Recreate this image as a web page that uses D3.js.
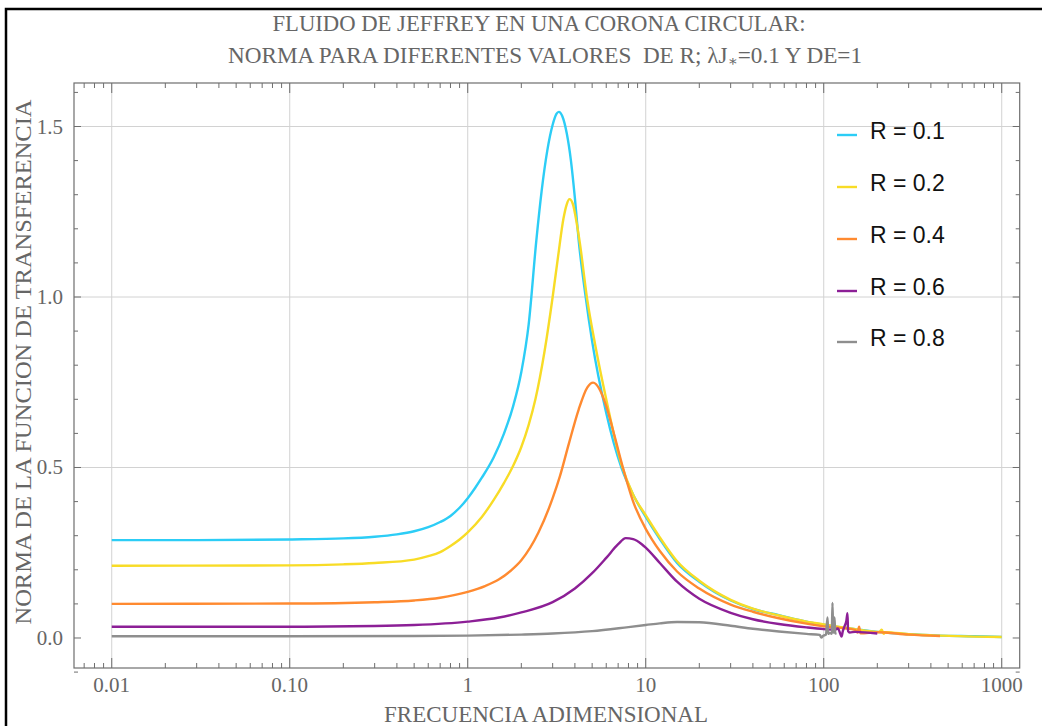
<!DOCTYPE html>
<html>
<head>
<meta charset="utf-8">
<script src="https://cdn.jsdelivr.net/npm/d3@7"></script>
<style>
  body { margin: 0; background: #fff; }
  svg { display: block; }
  text { font-family: "Liberation Serif", "DejaVu Serif", serif; }
</style>
</head>
<body>
<svg id="chart" width="1042" height="726"></svg>
<script>
// frecuencia adimensional vs norma
const r01 = [[0.01,0.287],[0.03,0.287],[0.1,0.289],[0.2,0.292],[0.3,0.297],[0.4,0.304],[0.5,0.313],[0.6,0.325],[0.7,0.34],[0.8,0.358],[0.9,0.382],[1,0.41],[1.1,0.44],[1.2,0.47],[1.4,0.53],[1.6,0.6],[1.8,0.68],[2,0.78],[2.2,0.92],[2.43,1.167],[2.6,1.31],[2.8,1.43],[3,1.505],[3.15,1.537],[3.25,1.543],[3.4,1.53],[3.6,1.48],[3.8,1.4],[4,1.29],[4.2,1.167],[4.6,1.0],[5,0.87],[6,0.66],[7.3,0.5],[8.5,0.42],[10,0.355],[12,0.29],[15,0.22],[20,0.165],[30,0.11],[40,0.085],[56,0.067],[80,0.048],[100,0.039],[150,0.026],[200,0.018],[300,0.011],[450,0.007],[700,0.005],[1000,0.003]]
const r02 = [[0.01,0.212],[0.1,0.213],[0.2,0.216],[0.3,0.22],[0.5,0.23],[0.6,0.24],[0.7,0.252],[0.8,0.27],[0.9,0.289],[1,0.31],[1.2,0.355],[1.4,0.405],[1.6,0.455],[1.8,0.505],[2,0.56],[2.2,0.625],[2.4,0.7],[2.7,0.84],[3,1.0],[3.22,1.12],[3.45,1.23],[3.6,1.272],[3.73,1.287],[3.9,1.272],[4.1,1.215],[4.26,1.16],[4.7,0.99],[5.2,0.86],[6,0.7],[7.3,0.51],[8.5,0.42],[10,0.36],[12,0.295],[15,0.225],[20,0.168],[30,0.112],[40,0.086],[56,0.066],[80,0.048],[100,0.04],[150,0.026],[205,0.018],[212,0.024],[217,0.012],[222,0.017],[300,0.011],[450,0.007],[700,0.004],[1000,0.003]]
const r04 = [[0.01,0.1],[0.1,0.101],[0.3,0.105],[0.5,0.11],[0.7,0.118],[1,0.135],[1.25,0.152],[1.5,0.172],[1.75,0.198],[2,0.228],[2.5,0.31],[3,0.41],[3.29,0.473],[3.7,0.57],[4.2,0.67],[4.7,0.735],[5.06,0.749],[5.5,0.73],[6,0.68],[6.7,0.59],[7.44,0.5],[8.5,0.4],[10,0.32],[10.9,0.287],[12,0.255],[15,0.195],[20,0.145],[30,0.098],[40,0.077],[56,0.058],[80,0.042],[100,0.034],[150,0.024],[155,0.016],[158,0.033],[161,0.014],[200,0.017],[300,0.01],[450,0.006]]
const r06 = [[0.01,0.033],[0.1,0.033],[0.3,0.035],[0.5,0.038],[1,0.048],[1.5,0.06],[2,0.075],[3,0.105],[4,0.145],[5,0.19],[6,0.235],[7,0.275],[7.72,0.293],[8.5,0.29],[9.5,0.275],[10,0.265],[12,0.22],[15,0.165],[20,0.115],[30,0.074],[40,0.055],[56,0.041],[80,0.031],[100,0.026],[115,0.024],[120,0.028],[124,0.012],[126,0.004],[128,0.02],[131,0.035],[134,0.05],[136,0.073],[137,0.02],[140,0.016],[150,0.018],[200,0.013]]
const r08 = [[0.01,0.005],[0.1,0.005],[0.5,0.006],[1,0.007],[2,0.01],[3,0.013],[5,0.02],[8,0.032],[10,0.038],[12,0.043],[15,0.047],[20,0.046],[30,0.036],[40,0.027],[56,0.019],[80,0.012],[95,0.009],[97,0.001],[99,0.006],[103,0.01],[105,0.06],[106,0.012],[108,0.015],[111,0.012],[112,0.103],[113,0.015],[115,0.06],[116,0.014],[118,0.012]]

const seriesNames = ["R = 0.1", "R = 0.2", "R = 0.4", "R = 0.6", "R = 0.8"]
const seriesData = [r01, r02, r04, r06, r08]
const seriesColors = ["#2ccdf6", "#f8dc26", "#ff8a30", "#8c1f96", "#8e8e8e"]

const xMajor = [0.01, 0.1, 1, 10, 100, 1000]
const xLabels = ["0.01", "0.10", "1", "10", "100", "1000"]
const yMajor = [0, 0.5, 1, 1.5]
const yLabels = ["0.0", "0.5", "1.0", "1.5"]

const svg = d3.select("#chart")
const pl = 74, pr = 1019.7, pt = 83, pb = 668

const x = d3.scaleLog().domain([Math.pow(10, -2.212), Math.pow(10, 3.101)]).range([pl, pr])
const y = d3.scaleLinear().domain([-0.088, 1.6276]).range([pb, pt])

// outer frame of the picture
svg.append("rect").attr("x", 6).attr("y", 9).attr("width", 1100).attr("height", 800)
  .attr("fill", "none").attr("stroke", "#000").attr("stroke-width", 2.5)

// grid
svg.append("g").selectAll("line").data(xMajor).join("line")
  .attr("x1", d => x(d)).attr("x2", d => x(d)).attr("y1", pt).attr("y2", pb)
  .attr("stroke", "#d2d2d2").attr("stroke-width", 1)
svg.append("g").selectAll("line").data(yMajor.filter(d => d > 0)).join("line")
  .attr("x1", pl).attr("x2", pr).attr("y1", d => y(d)).attr("y2", d => y(d))
  .attr("stroke", "#d2d2d2").attr("stroke-width", 1)

// ticks: decades long, the rest short, on all four sides pointing inward
let xMinor = []
for (let e = -3; e <= 3; e++) for (let k = 2; k <= 9; k++) {
  const v = k * Math.pow(10, e)
  if (v > x.domain()[0] && v < x.domain()[1]) xMinor.push(v)
}
const yMinor = d3.range(-1, 17).map(i => i / 10).filter(v => Math.abs(v * 2 - Math.round(v * 2)) > 0.01)

const tk = svg.append("g").attr("stroke", "#6e6e6e").attr("stroke-width", 1)
const xt = xMajor.map(v => [v, 10]).concat(xMinor.map(v => [v, 5]))
xt.forEach(([v, len]) => {
  tk.append("line").attr("x1", x(v)).attr("x2", x(v)).attr("y1", pb).attr("y2", pb - len)
  tk.append("line").attr("x1", x(v)).attr("x2", x(v)).attr("y1", pt).attr("y2", pt + len)
})
const yt = yMajor.map(v => [v, 7]).concat(yMinor.map(v => [v, 4]))
yt.forEach(([v, len]) => {
  tk.append("line").attr("x1", pl).attr("x2", pl + len).attr("y1", y(v)).attr("y2", y(v))
  tk.append("line").attr("x1", pr).attr("x2", pr - len).attr("y1", y(v)).attr("y2", y(v))
})

svg.append("rect").attr("x", pl).attr("y", pt).attr("width", pr - pl).attr("height", pb - pt)
  .attr("fill", "none").attr("stroke", "#6e6e6e").attr("stroke-width", 1.2)

// tick labels
svg.append("g").selectAll("text").data(xMajor).join("text")
  .attr("x", d => x(d)).attr("y", 692).attr("text-anchor", "middle")
  .attr("font-size", 21).attr("fill", "#666").text((d, i) => xLabels[i])
svg.append("g").selectAll("text").data(yMajor).join("text")
  .attr("x", 63).attr("y", d => y(d) + 7).attr("text-anchor", "end")
  .attr("font-size", 21).attr("fill", "#666").text((d, i) => yLabels[i])

// curves
const line = d3.line().x(d => x(d[0])).y(d => y(d[1])).curve(d3.curveMonotoneX)
svg.append("g").selectAll("path").data(seriesData).join("path")
  .attr("d", line).attr("fill", "none")
  .attr("stroke", (d, i) => seriesColors[i]).attr("stroke-width", 2.4)
  .attr("stroke-linejoin", "round")

// legend
const lg = svg.append("g").selectAll("g").data(seriesNames).join("g")
  .attr("transform", (d, i) => `translate(837, ${[135, 187, 239, 291, 342][i]})`)
lg.append("line").attr("x1", 0).attr("x2", 20).attr("stroke", (d, i) => seriesColors[i]).attr("stroke-width", 2.4)
lg.append("text").attr("x", 33).attr("y", 4).attr("font-size", 23)
  .style("font-family", "'Liberation Sans', Arial, sans-serif").attr("fill", "#111").text(d => d)

// titles (the original face is a narrow Times, so widths are pinned)
const title = svg.append("g").attr("fill", "#666").attr("font-size", 23).attr("text-anchor", "middle")
title.append("text").attr("x", 539).attr("y", 31)
  .attr("textLength", 533).attr("lengthAdjust", "spacingAndGlyphs")
  .text("FLUIDO DE JEFFREY EN UNA CORONA CIRCULAR:")
const t2 = title.append("text").attr("x", 545).attr("y", 63).style("white-space", "pre")
  .attr("textLength", 634).attr("lengthAdjust", "spacingAndGlyphs")
t2.append("tspan").text("NORMA PARA DIFERENTES VALORES  DE R; λJ")
t2.append("tspan").attr("font-size", 15).attr("dy", 3).text("∗")
t2.append("tspan").attr("dy", -3).text("=0.1 Y DE=1")

svg.append("text").attr("x", 546).attr("y", 722).attr("text-anchor", "middle")
  .attr("font-size", 23).attr("fill", "#666")
  .attr("textLength", 324).attr("lengthAdjust", "spacingAndGlyphs")
  .text("FRECUENCIA ADIMENSIONAL")
svg.append("text").attr("transform", "translate(31, 362) rotate(-90)").attr("text-anchor", "middle")
  .attr("font-size", 23).attr("fill", "#666")
  .attr("textLength", 525).attr("lengthAdjust", "spacingAndGlyphs")
  .text("NORMA DE LA FUNCION DE TRANSFERENCIA")
</script>
</body>
</html>
